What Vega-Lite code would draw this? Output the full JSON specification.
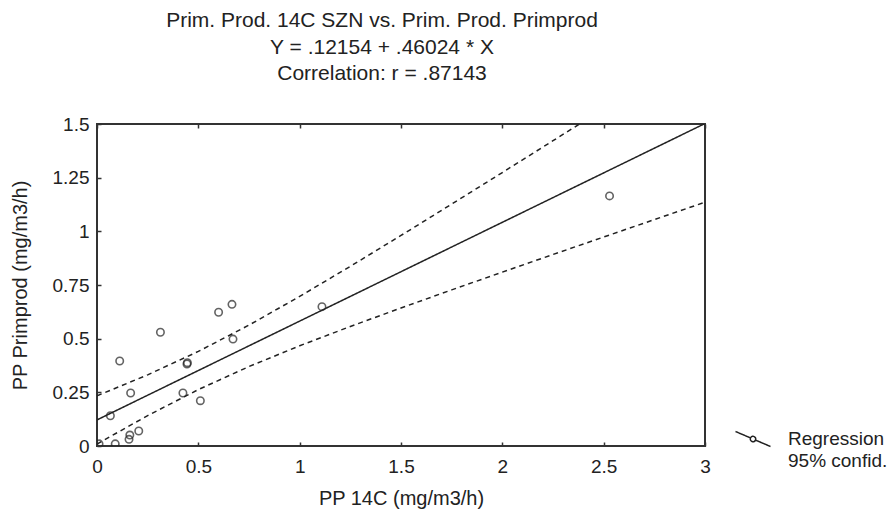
{
  "$schema": "https://vega.github.io/schema/vega-lite/v6.json",
  "width": 608,
  "height": 322,
  "autosize": {"type": "none"},
  "padding": {"left": 97, "top": 124, "right": 191, "bottom": 69},
  "background": "white",
  "title": {
    "text": ["Prim. Prod. 14C SZN vs. Prim. Prod. Primprod", "Y = .12154 + .46024 * X", "Correlation: r = .87143"],
    "anchor": "middle",
    "dx": -19,
    "offset": 31,
    "font": "Liberation Sans",
    "fontSize": 21,
    "fontWeight": "normal",
    "lineHeight": 26.5,
    "color": "#222"
  },
  "datasets": {
    "pts": [
      {"x": 0.01, "y": 0.01},
      {"x": 0.09, "y": 0.01},
      {"x": 0.066, "y": 0.141},
      {"x": 0.112, "y": 0.396},
      {"x": 0.166, "y": 0.247},
      {"x": 0.162, "y": 0.051},
      {"x": 0.158, "y": 0.031},
      {"x": 0.206, "y": 0.07},
      {"x": 0.313, "y": 0.53},
      {"x": 0.424, "y": 0.247},
      {"x": 0.444, "y": 0.382},
      {"x": 0.446, "y": 0.388},
      {"x": 0.51, "y": 0.211},
      {"x": 0.6, "y": 0.623},
      {"x": 0.666, "y": 0.66},
      {"x": 0.671, "y": 0.498},
      {"x": 1.11, "y": 0.649},
      {"x": 2.529, "y": 1.165}
    ],
    "lines": [
      {"x": 0, "y": 0.1215, "series": "Regression", "band": "fit"},
      {"x": 3, "y": 1.5023, "series": "Regression", "band": "fit"},
      {"x": 0, "y": 0.2337, "series": "95% confid.", "band": "upper"},
      {"x": 0.25, "y": 0.3315, "series": "95% confid.", "band": "upper"},
      {"x": 0.5, "y": 0.4406, "series": "95% confid.", "band": "upper"},
      {"x": 0.75, "y": 0.5632, "series": "95% confid.", "band": "upper"},
      {"x": 1, "y": 0.6968, "series": "95% confid.", "band": "upper"},
      {"x": 1.25, "y": 0.837, "series": "95% confid.", "band": "upper"},
      {"x": 1.5, "y": 0.9808, "series": "95% confid.", "band": "upper"},
      {"x": 1.75, "y": 1.1268, "series": "95% confid.", "band": "upper"},
      {"x": 2, "y": 1.274, "series": "95% confid.", "band": "upper"},
      {"x": 2.25, "y": 1.4221, "series": "95% confid.", "band": "upper"},
      {"x": 2.5, "y": 1.5707, "series": "95% confid.", "band": "upper"},
      {"x": 0, "y": 0.0093, "series": "95% confid.", "band": "lower"},
      {"x": 0.25, "y": 0.1417, "series": "95% confid.", "band": "lower"},
      {"x": 0.5, "y": 0.2628, "series": "95% confid.", "band": "lower"},
      {"x": 0.75, "y": 0.3702, "series": "95% confid.", "band": "lower"},
      {"x": 1, "y": 0.4668, "series": "95% confid.", "band": "lower"},
      {"x": 1.25, "y": 0.5568, "series": "95% confid.", "band": "lower"},
      {"x": 1.5, "y": 0.643, "series": "95% confid.", "band": "lower"},
      {"x": 1.75, "y": 0.7272, "series": "95% confid.", "band": "lower"},
      {"x": 2, "y": 0.81, "series": "95% confid.", "band": "lower"},
      {"x": 2.25, "y": 0.8921, "series": "95% confid.", "band": "lower"},
      {"x": 2.5, "y": 0.9735, "series": "95% confid.", "band": "lower"},
      {"x": 2.75, "y": 1.0547, "series": "95% confid.", "band": "lower"},
      {"x": 3, "y": 1.1356, "series": "95% confid.", "band": "lower"}
    ]
  },
  "layer": [
    {
      "data": {"name": "lines"},
      "mark": {"type": "line", "clip": true, "color": "#222", "strokeWidth": 1.5},
      "encoding": {
        "x": {
          "field": "x", "type": "quantitative",
          "scale": {"domain": [0, 3], "nice": false, "zero": false},
          "axis": {"orient": "bottom", "values": [0, 0.5, 1, 1.5, 2, 2.5, 3], "format": ".3~g", "labelFlush": false, "title": "PP 14C (mg/m3/h)", "labelPadding": 15, "titlePadding": 12}
        },
        "y": {
          "field": "y", "type": "quantitative",
          "scale": {"domain": [0, 1.5], "nice": false, "zero": false},
          "axis": {"orient": "left", "values": [0, 0.25, 0.5, 0.75, 1, 1.25, 1.5], "format": ".3~g", "labelFlush": false, "title": "PP Primprod (mg/m3/h)", "labelPadding": 12, "titlePadding": 22}
        },
        "detail": {"field": "band", "type": "nominal"},
        "strokeDash": {
          "field": "series", "type": "nominal",
          "scale": {"domain": ["Regression", "95% confid."], "range": [[1, 0], [5, 4]]},
          "legend": {
            "orient": "none",
            "legendX": 645,
            "legendY": 304,
            "title": null,
            "padding": 0,
            "rowPadding": 0,
            "symbolType": "M-1.75,-0.75L-0.25,-0.11M0.25,0.11L1.75,0.75M0.27,0A0.27,0.27,0,1,1,-0.27,0A0.27,0.27,0,1,1,0.27,0",
            "symbolSize": 400,
            "symbolStrokeColor": "#222",
            "symbolStrokeWidth": 1.5,
            "symbolFillColor": "transparent",
            "labelFont": "Liberation Sans",
            "labelFontSize": 19,
            "labelColor": "#222",
            "labelOffset": 24,
            "labelLimit": 200,
            "encode": {"symbols": {"update": {"opacity": {"signal": "datum.value === 'Regression' ? 1 : 0"}}}}
          }
        }
      }
    },
    {
      "data": {"name": "pts"},
      "mark": {"type": "point", "clip": true, "shape": "circle", "filled": false, "size": 55, "color": "#222", "strokeWidth": 1.6},
      "encoding": {
        "x": {
          "field": "x", "type": "quantitative",
          "axis": {"orient": "top", "values": [0, 0.5, 1, 1.5, 2, 2.5, 3], "labels": false, "title": null}
        },
        "y": {"field": "y", "type": "quantitative", "axis": null}
      }
    }
  ],
  "resolve": {"axis": {"x": "independent", "y": "independent"}},
  "config": {
    "view": {"stroke": "#333", "strokeWidth": 2},
    "axis": {
      "domain": false,
      "grid": false,
      "ticks": true,
      "tickSize": -4,
      "tickColor": "#333",
      "tickWidth": 1.5,
      "labelFont": "Liberation Sans",
      "labelFontSize": 19,
      "labelColor": "#222",
      "titleFont": "Liberation Sans",
      "titleFontSize": 20,
      "titleFontWeight": "normal",
      "titleColor": "#222"
    }
  }
}
